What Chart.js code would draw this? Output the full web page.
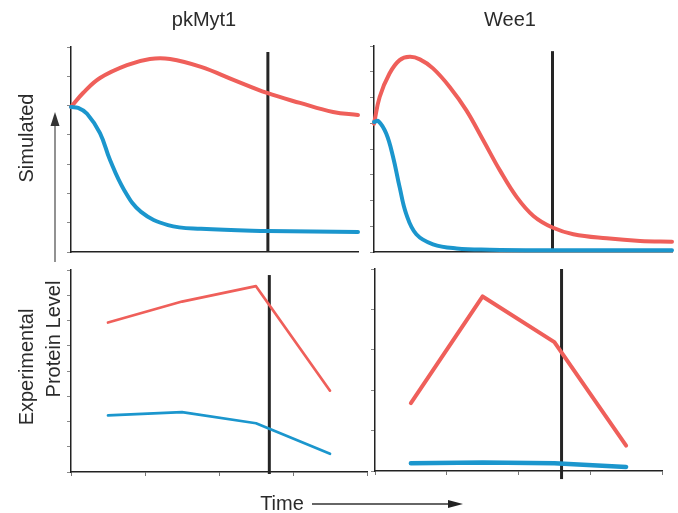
<!DOCTYPE html>
<html>
<head>
<meta charset="utf-8">
<script src="https://cdn.jsdelivr.net/npm/chart.js@4/dist/chart.umd.min.js"></script>
<style>
  body { margin:0; background:#fff; }
  #wrap { position:relative; width:678px; height:513px; overflow:hidden; font-family:"Liberation Sans", Arial, sans-serif; color:#2b2b2b; }
  #wrap canvas { position:absolute; left:0; top:0; pointer-events:none; }
  .lbl { position:absolute; font-size:20px; white-space:nowrap; line-height:1; }
  .rot { transform: translate(-50%,-50%) rotate(-90deg); }
  .ctr { transform: translate(-50%,-50%); }
  svg { position:absolute; left:0; top:0; }
</style>
</head>
<body>
<div id="wrap">
  <canvas id="c1" width="678" height="513"></canvas>
  <canvas id="c2" width="678" height="513"></canvas>
  <canvas id="c3" width="678" height="513"></canvas>
  <canvas id="c4" width="678" height="513"></canvas>
  <svg width="678" height="513">
    <line x1="55" y1="262" x2="55" y2="124" stroke="#777" stroke-width="1.6"/>
    <polygon points="50.5,126 59.5,126 55,112" fill="#333"/>
    <line x1="312" y1="504" x2="450" y2="504" stroke="#333" stroke-width="1.3"/>
    <polygon points="448,500 448,508 463,504" fill="#222"/>
  </svg>
  <div class="lbl ctr" style="left:204px;top:19px;">pkMyt1</div>
  <div class="lbl ctr" style="left:510px;top:19px;">Wee1</div>
  <div class="lbl rot" style="left:26px;top:138px;">Simulated</div>
  <div class="lbl rot" style="left:26px;top:367px;">Experimental</div>
  <div class="lbl rot" style="left:53px;top:339px;">Protein Level</div>
  <div class="lbl ctr" style="left:282px;top:503px;">Time</div>
</div>
<script>
// colours
var red = "#ef5f5a";
var blue = "#1b96cd";

// pkMyt1 simulated (x in % of time axis)
var myt1SimRedX = [0, 4.2, 10.1, 19.5, 27.5, 34.5, 45.3, 56.8, 68.3, 79.8, 91.3, 100];
var myt1SimRedY = [4.95, 5.43, 5.94, 6.38, 6.59, 6.59, 6.32, 5.87, 5.43, 5.09, 4.78, 4.68];
var myt1SimBlueX = [0, 2.5, 5.6, 10.1, 13.6, 18.5, 24.4, 33.8, 45.3, 68.3, 100];
var myt1SimBlueY = [4.95, 4.92, 4.72, 4.06, 3.14, 2.12, 1.37, 0.92, 0.79, 0.72, 0.68];
var myt1SimMark = [68.6, 0, 6.83];

// Wee1 simulated
var wee1SimRedX = [0, 1.9, 5.2, 8.6, 12.0, 15.4, 19.8, 25.4, 31.0, 36.7, 42.3, 47.9, 53.5, 59.9, 66.9, 78.1, 89.3, 100];
var wee1SimRedY = [4.98, 6.02, 6.93, 7.45, 7.58, 7.48, 7.13, 6.41, 5.5, 4.33, 3.16, 2.13, 1.4, 0.95, 0.69, 0.53, 0.43, 0.4];
var wee1SimBlueX = [0, 1.5, 4.1, 6.4, 8.6, 10.8, 14.2, 19.8, 27.7, 38.9, 55.7, 100];
var wee1SimBlueY = [5.05, 5.08, 4.6, 3.69, 2.52, 1.48, 0.69, 0.3, 0.14, 0.09, 0.07, 0.07];
var wee1SimMark = [59.9, 0, 7.8];

// experimental time points
var expX = [0.5, 1.5, 2.5, 3.5];
var myt1ExpRed = [5.92, 6.75, 7.36, 3.22];
var myt1ExpBlue = [2.24, 2.37, 1.93, 0.72];
var myt1ExpMark = [2.68, -0.08, 7.8];
var wee1ExpRed = [1.68, 4.32, 3.19, 0.63];
var wee1ExpBlue = [0.19, 0.21, 0.19, 0.1];
var wee1ExpMark = [2.6, -0.2, 5];

function pts(xs, ys){
    var out = [];
    for(let i=0; i<xs.length; i++){
        out.push({x: xs[i], y: ys[i]});
    }
    return out;
}

function lineSet(data, color, width, smooth){
    return {
        data: data,
        borderColor: color,
        borderWidth: width,
        pointRadius: 0,
        tension: smooth ? 0.4 : 0,
        borderCapStyle: "round",
        borderJoinStyle: "round",
        clip: false
    };
}

function markSet(m){
    return {
        data: [{x: m[0], y: m[1]}, {x: m[0], y: m[2]}],
        borderColor: "#252525",
        borderWidth: 3,
        pointRadius: 0,
        clip: false
    };
}

// box = [left, top, right, bottom] of the plot area in page pixels
function makePanel(id, box, xMax, yMax, xTicks, sets){
    var tl = 4;
    new Chart(id, {
        type: "line",
        data: { datasets: sets },
        options: {
            responsive: false,
            animation: false,
            events: [],
            layout: {
                autoPadding: false,
                padding: {
                    left: box[0] - tl,
                    top: box[1],
                    right: 678 - box[2],
                    bottom: 513 - box[3] - (xTicks ? tl : 0)
                }
            },
            plugins: { legend: {display: false}, tooltip: {enabled: false} },
            scales: {
                x: {
                    type: "linear", min: 0, max: xMax,
                    ticks: { display: false, stepSize: 1 },
                    grid: { drawOnChartArea: false, drawTicks: xTicks, tickLength: tl, tickColor: "#777", tickWidth: 1 },
                    border: { color: "#222", width: 1.5 }
                },
                y: {
                    type: "linear", min: 0, max: yMax,
                    ticks: { display: false, stepSize: 1 },
                    grid: { drawOnChartArea: false, drawTicks: true, tickLength: tl, tickColor: "#888", tickWidth: 1 },
                    border: { color: "#222", width: 1.5 }
                }
            }
        }
    });
}

makePanel("c1", [71, 47, 358, 252], 100, 7, false, [
    lineSet(pts(myt1SimBlueX, myt1SimBlueY), blue, 4, true),
    lineSet(pts(myt1SimRedX, myt1SimRedY), red, 4, true),
    markSet(myt1SimMark)
]);
makePanel("c2", [374, 46, 672, 252], 100, 8, false, [
    lineSet(pts(wee1SimBlueX, wee1SimBlueY), blue, 4, true),
    lineSet(pts(wee1SimRedX, wee1SimRedY), red, 4, true),
    markSet(wee1SimMark)
]);
makePanel("c3", [71, 270, 367, 472], 4, 8, true, [
    lineSet(pts(expX, myt1ExpBlue), blue, 2.7, false),
    lineSet(pts(expX, myt1ExpRed), red, 2.7, false),
    markSet(myt1ExpMark)
]);
makePanel("c4", [375, 269, 662, 471], 4, 5, true, [
    lineSet(pts(expX, wee1ExpBlue), blue, 4.5, false),
    lineSet(pts(expX, wee1ExpRed), red, 4, false),
    markSet(wee1ExpMark)
]);
</script>
</body>
</html>
